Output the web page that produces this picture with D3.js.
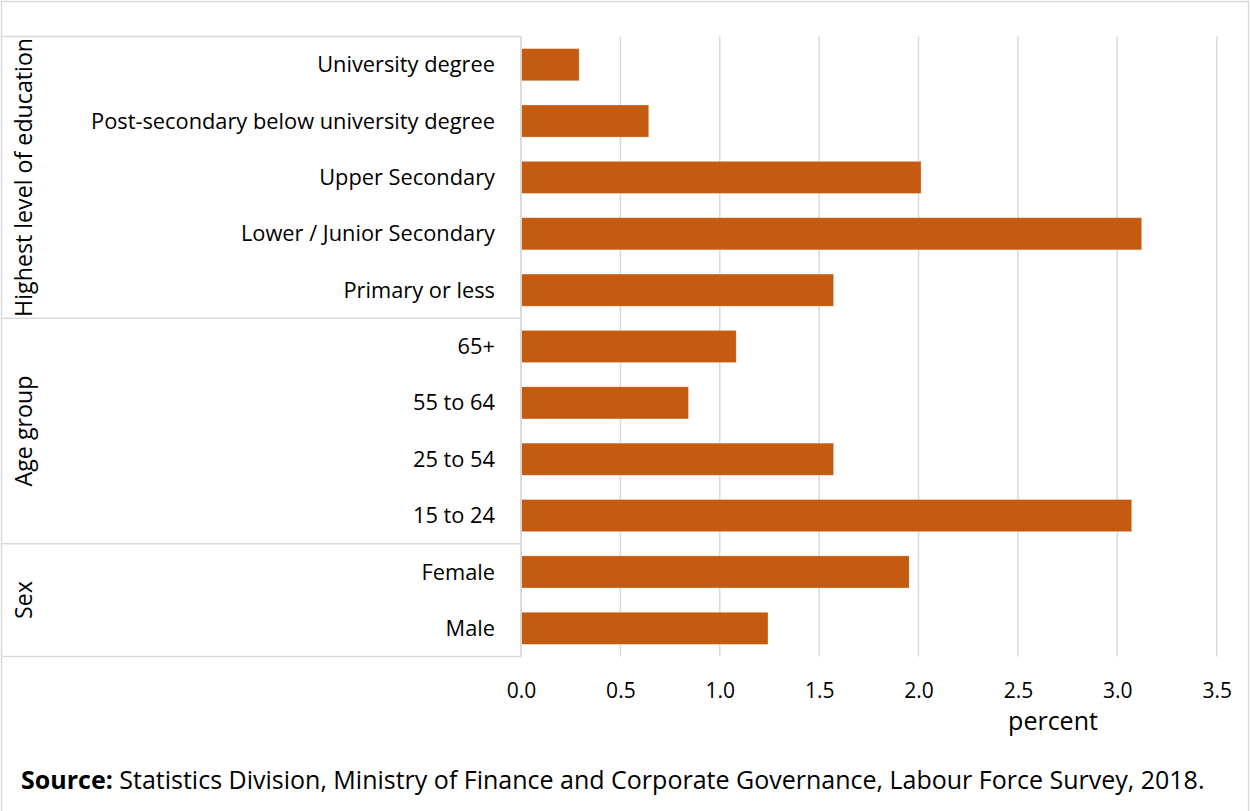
<!DOCTYPE html>
<html>
<head>
<meta charset="utf-8">
<script src="https://cdn.jsdelivr.net/npm/d3@7"></script>
<style>
  html, body { margin: 0; padding: 0; background: #fff; }
  svg { display: block; font-family: "Open Sans", "Noto Sans", sans-serif; }
</style>
</head>
<body>
<svg id="chart" width="1250" height="811"></svg>
<script>
// Unemployment rate by group, percent (top to bottom as drawn)
const groups = ["Highest level of education", "Age group", "Sex"];
const educationCategories = ["University degree", "Post-secondary below university degree", "Upper Secondary", "Lower / Junior Secondary", "Primary or less"];
const educationValues = [0.29, 0.64, 2.01, 3.12, 1.57];
const ageCategories = ["65+", "55 to 64", "25 to 54", "15 to 24"];
const ageValues = [1.08, 0.84, 1.57, 3.07];
const sexCategories = ["Female", "Male"];
const sexValues = [1.95, 1.24];
const xTicks = [0, 0.5, 1, 1.5, 2, 2.5, 3, 3.5];
const xTitle = "percent";
const sourceLabel = "Source:";
const sourceText = " Statistics Division, Ministry of Finance and Corporate Governance, Labour Force Survey, 2018.";

const groupCats = [educationCategories, ageCategories, sexCategories];
const groupVals = [educationValues, ageValues, sexValues];

const rows = [];
groupCats.forEach((cats, gi) => cats.forEach((c, i) => rows.push({ group: groups[gi], cat: c, value: groupVals[gi][i] })));

const svg = d3.select("#chart");
const W = 1250, H = 811;
const plot = { left: 521, right: 1216.7, top: 36.5, bottom: 656.5 };
const barColor = "#C55A11";
const gridColor = "#D9D9D9";
const textColor = "#000";

// chart area border
svg.append("rect")
  .attr("x", 1.5).attr("y", 1.5)
  .attr("width", W - 3).attr("height", H + 10)
  .attr("fill", "none").attr("stroke", gridColor).attr("stroke-width", 1.5);

const x = d3.scaleLinear().domain([0, 3.5]).range([plot.left, plot.right]);
const y = d3.scaleBand().domain(rows.map(d => d.cat)).range([plot.top, plot.bottom]).paddingInner(0.43).paddingOuter(0.215);

// vertical gridlines
svg.append("g")
  .selectAll("line")
  .data(xTicks)
  .join("line")
  .attr("x1", d => x(d)).attr("x2", d => x(d))
  .attr("y1", plot.top).attr("y2", plot.bottom)
  .attr("stroke", gridColor).attr("stroke-width", 1.5);

// group separators on the category side
const boundaries = [0];
let acc = 0;
groupCats.forEach(c => { acc += c.length; boundaries.push(acc); });
const yAtIndex = i => plot.top + (plot.bottom - plot.top) * i / rows.length;

svg.append("g")
  .selectAll("line")
  .data(boundaries)
  .join("line")
  .attr("x1", 2.5).attr("x2", plot.left)
  .attr("y1", d => yAtIndex(d)).attr("y2", d => yAtIndex(d))
  .attr("stroke", gridColor).attr("stroke-width", 1.5);

// bars
svg.append("g")
  .selectAll("rect")
  .data(rows)
  .join("rect")
  .attr("x", x(0) + 0.5)
  .attr("y", d => y(d.cat))
  .attr("width", d => x(d.value) - x(0))
  .attr("height", y.bandwidth())
  .attr("fill", barColor)
  .attr("stroke", "#fff").attr("stroke-opacity", 0.35).attr("stroke-width", 0.75);

// vertical category axis line
svg.append("line")
  .attr("x1", plot.left).attr("x2", plot.left)
  .attr("y1", plot.top).attr("y2", plot.bottom)
  .attr("stroke", gridColor).attr("stroke-width", 1.5);

// category labels
svg.append("g")
  .selectAll("text")
  .data(rows)
  .join("text")
  .attr("x", 495)
  .attr("y", d => y(d.cat) + y.bandwidth() / 2)
  .attr("dy", "0.35em")
  .attr("text-anchor", "end")
  .attr("font-size", 21.8)
  .attr("fill", textColor)
  .text(d => d.cat);

// group labels, rotated
svg.append("g")
  .selectAll("text")
  .data(groups)
  .join("text")
  .attr("transform", (d, i) => `translate(32,${(yAtIndex(boundaries[i]) + yAtIndex(boundaries[i + 1])) / 2}) rotate(-90)`)
  .attr("text-anchor", "middle")
  .attr("font-size", 23.2)
  .attr("fill", textColor)
  .text(d => d);

// x axis tick labels
const xAxis = d3.axisBottom(x).tickValues(xTicks).tickFormat(d3.format(".1f")).tickSize(0).tickPadding(0);
const gx = svg.append("g").attr("transform", `translate(0,683)`).call(xAxis);
gx.select(".domain").remove();
gx.selectAll("text").attr("font-size", 21).attr("fill", textColor).attr("font-family", "\"Open Sans\", sans-serif").attr("dy", "0.71em").attr("y", 0);

// x axis title
svg.append("text")
  .attr("x", 1053).attr("y", 730)
  .attr("text-anchor", "middle")
  .attr("font-size", 25)
  .attr("fill", textColor)
  .text(xTitle);

// source note
const src = svg.append("text")
  .attr("x", 21).attr("y", 789)
  .attr("font-size", 25)
  .attr("fill", textColor);
src.append("tspan").attr("font-weight", "bold").text(sourceLabel);
src.append("tspan").text(sourceText);
</script>
</body>
</html>
